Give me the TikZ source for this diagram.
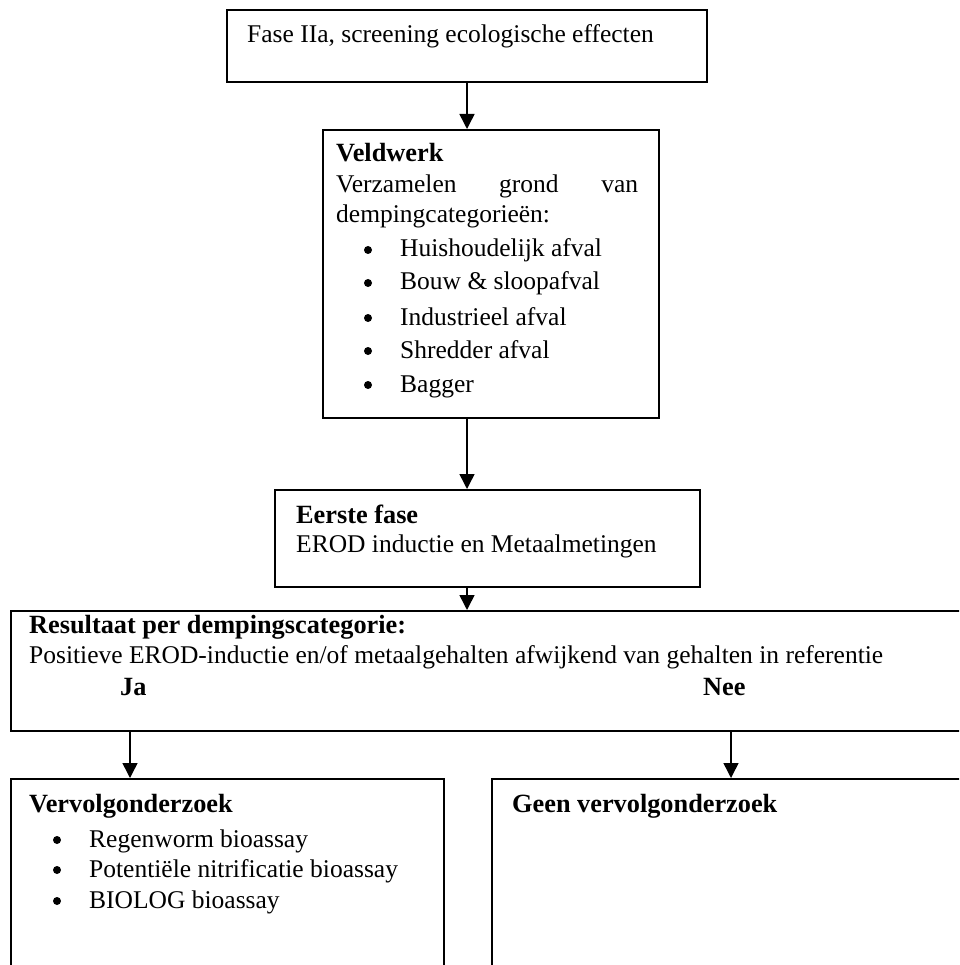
\documentclass[tikz,border=0pt]{standalone}
\usepackage{fontspec}
\setmainfont{Liberation Serif}
\usetikzlibrary{arrows.meta}
\begin{document}
\begin{tikzpicture}[x=1pt,y=-1pt,
  box/.style={draw,line width=2pt,inner sep=0pt,anchor=north west},
  txt/.style={anchor=base west,inner sep=0pt,font=\fontsize{25.5}{30}\selectfont},
  hd/.style={anchor=base west,inner sep=0pt,font=\fontsize{26.3}{30}\selectfont\bfseries},
  dot/.style={circle,fill,inner sep=0pt,minimum size=8pt},
  arr/.style={line width=1.5pt,-{Triangle[width=15pt,length=15pt]}}]
\useasboundingbox (0,0) rectangle (959,965);
\clip (0,0) rectangle (959,965);
% boxes
\node[box,minimum width=480pt,minimum height=72pt] (b1) at (226,9) {};
\node[box,minimum width=336pt,minimum height=288pt] (b2) at (322,129) {};
\node[box,minimum width=425pt,minimum height=97pt] (b3) at (274,489) {};
\node[box,minimum width=965pt,minimum height=120pt] (b4) at (10,610) {};
\node[box,minimum width=433pt,minimum height=220pt] (b5) at (10,778) {};
\node[box,minimum width=489pt,minimum height=220pt] (b6) at (491,778) {};
% texts
\node[txt] (t1) at (247,43) {Fase IIa, screening ecologische effecten};
\node[hd] (t2a) at (336,162) {Veldwerk};
\node[txt] (t2b) at (336,193) {\makebox[302pt][s]{Verzamelen\hfill grond\hfill van}};
\node[txt] (t2c) at (336,223) {dempingcategorieën:};
\node[dot] (d21) at (368,250) {};
\node[txt] (t21) at (400,257) {Huishoudelijk afval};
\node[dot] (d22) at (368,283) {};
\node[txt] (t22) at (400,290) {Bouw \& sloopafval};
\node[dot] (d23) at (368,318) {};
\node[txt] (t23) at (400,325) {Industrieel afval};
\node[dot] (d24) at (368,351) {};
\node[txt] (t24) at (400,358) {Shredder afval};
\node[dot] (d25) at (368,385) {};
\node[txt] (t25) at (400,392) {Bagger};
\node[hd] (t3a) at (296,523) {Eerste fase};
\node[txt] (t3b) at (296,552) {EROD inductie en Metaalmetingen};
\node[hd] (t4a) at (29,633) {Resultaat per dempingscategorie:};
\node[txt] (t4b) at (29,663) {Positieve EROD-inductie en/of metaalgehalten afwijkend van gehalten in referentie};
\node[hd] (t4c) at (120,695) {Ja};
\node[hd] (t4d) at (703,695) {Nee};
\node[hd] (t5a) at (29,812) {Vervolgonderzoek};
\node[dot] (d51) at (57,840) {};
\node[txt] (t51) at (89,847) {Regenworm bioassay};
\node[dot] (d52) at (57,870) {};
\node[txt] (t52) at (89,877) {Potentiële nitrificatie bioassay};
\node[dot] (d53) at (57,901) {};
\node[txt] (t53) at (89,908) {BIOLOG bioassay};
\node[hd] (t6a) at (512,812) {Geen vervolgonderzoek};
% connectors
\coordinate (cm) at (467,0);
\coordinate (cl) at (130,0);
\coordinate (cr) at (731,0);
\draw[arr] (cm |- b1.south) -- (cm |- b2.north);
\draw[arr] (cm |- b2.south) -- (cm |- b3.north);
\draw[arr] (cm |- b3.south) -- (cm |- b4.north);
\draw[arr] (cl |- b4.south) -- (cl |- b5.north);
\draw[arr] (cr |- b4.south) -- (cr |- b6.north);
\end{tikzpicture}
\end{document}
